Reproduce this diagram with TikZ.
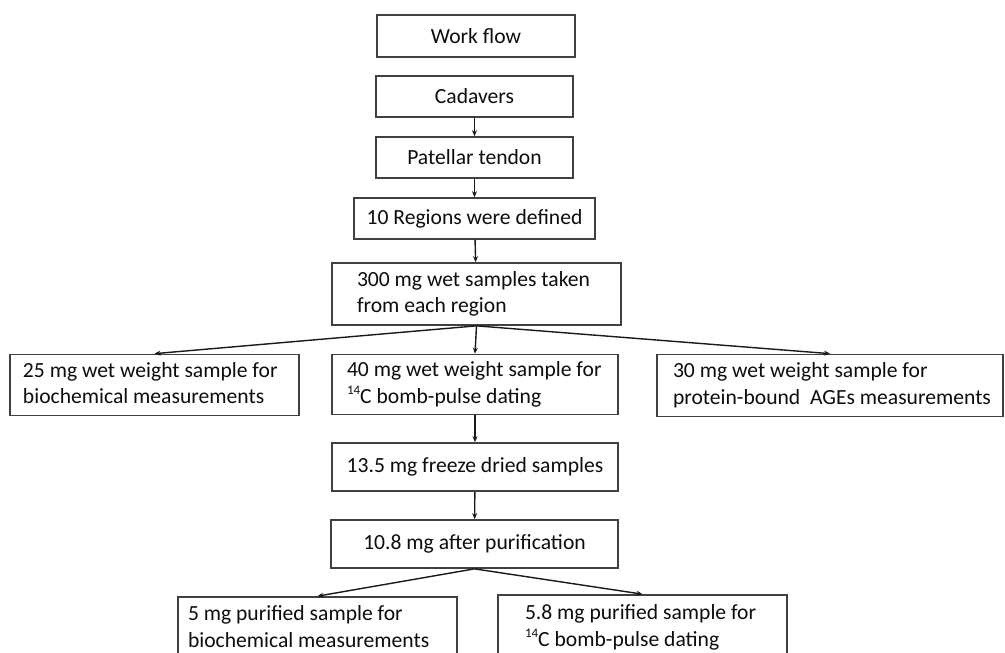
\documentclass[tikz,border=0pt]{standalone}
\usepackage{fontspec}
\setmainfont{Carlito}
\usetikzlibrary{arrows.meta}
\newcommand{\supnum}[1]{\raisebox{0.38em}{\fontsize{13}{13}\selectfont #1}}
\newcommand{\twol}[2]{\begin{tabular}{@{}l@{}}\spaceskip=0pt\xspaceskip=0pt #1\\\spaceskip=0pt\xspaceskip=0pt #2\end{tabular}}
\begin{document}
\begin{tikzpicture}[x=1pt,y=-1pt,
  box/.style={draw=black!75,line width=1.7pt,rectangle,inner sep=0pt,
    font=\fontsize{21.6}{26.5}\selectfont,text=black!95},
  lbox/.style={box,align=left},
  arr/.style={draw=black!90,line width=1.4pt,-{Stealth[length=6pt,width=5pt]}}]
\useasboundingbox (0,0) rectangle (1005,653);
\clip (0,0) rectangle (1005,653);
\fill[white] (0,0) rectangle (1005,653);
\renewcommand{\arraystretch}{1.0}
% boxes
\node[box,minimum width=198pt,minimum height=42pt] (wf) at (476,36) {Work flow};
\node[box,minimum width=197pt,minimum height=41pt] (cad) at (474.5,96.5) {Cadavers};
\node[box,minimum width=197pt,minimum height=41pt] (pat) at (474.5,157.5) {Patellar tendon};
\node[box,minimum width=241pt,minimum height=41pt] (reg) at (474.5,218.5) {10 Regions were defined};
\node[lbox,inner xsep=25pt,text width=239pt,minimum height=62pt] (s300) at (476.5,294) {\twol{300 mg wet samples taken}{from each region}};
\node[lbox,inner xsep=13pt,text width=263pt,minimum height=61pt] (b25) at (154.5,385) {\twol{25 mg wet weight sample for}{biochemical measurements}};
\node[lbox,inner xsep=15pt,text width=256pt,minimum height=60pt] (b40) at (475,384.5) {\twol{40 mg wet weight sample for}{\supnum{14}C bomb-pulse dating}};
\node[lbox,inner xsep=16pt,text width=314pt,minimum height=62pt] (b30) at (830,385.5) {\twol{30 mg wet weight sample for}{protein-bound~ AGEs measurements}};
\node[box,minimum width=286pt,minimum height=48pt] (b135) at (475,467) {13.5 mg freeze dried samples};
\node[box,minimum width=287pt,minimum height=48pt] (b108) at (474.5,544) {10.8 mg after purification};
\node[lbox,inner xsep=10pt,text width=259pt,minimum height=63pt] (b5) at (317.5,628.5) {\twol{5 mg purified sample for}{biochemical measurements}};
\node[lbox,inner xsep=27pt,text width=235pt,minimum height=65pt] (b58) at (642.5,627.5) {\twol{5.8 mg purified sample for}{\supnum{14}C bomb-pulse dating}};
% connectors
\draw[arr] (cad) -- (pat);
\draw[arr] (pat) -- (reg);
\draw[arr] (reg) -- (s300);
\draw[arr] (s300.south) -- (b25.north);
\draw[arr] (s300.south) -- (b40.north);
\draw[arr] (s300.south) -- (b30.north);
\draw[arr] (b40) -- (b135);
\draw[arr] (b135) -- (b108);
\draw[arr] (b108.south) -- (b5.north);
\draw[arr] (b108.south) -- (b58.north);
\end{tikzpicture}
\end{document}
